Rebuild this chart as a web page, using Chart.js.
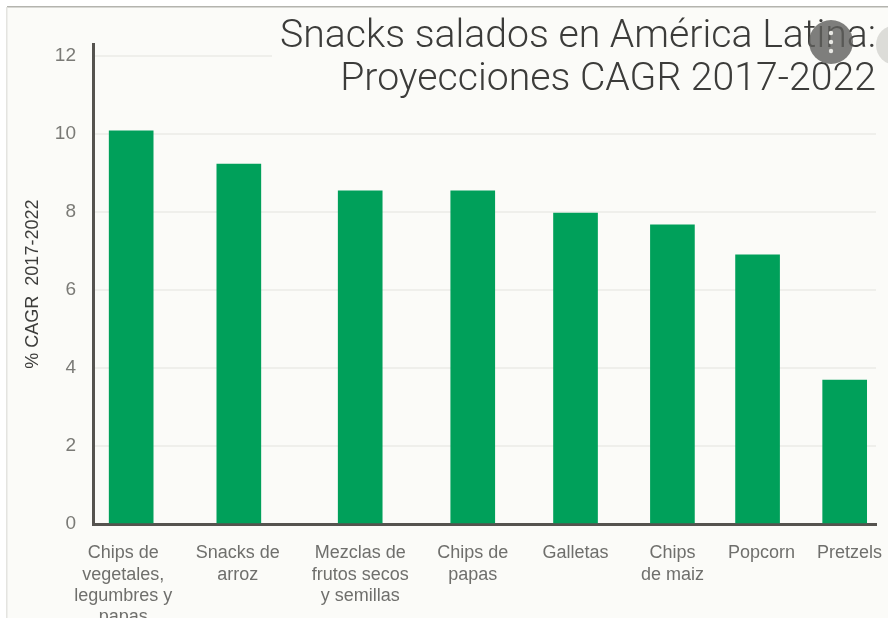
<!DOCTYPE html>
<html>
<head>
<meta charset="utf-8">
<style>
  html, body { margin: 0; background: #fff; overflow: hidden; }
</style>
<script src="https://cdn.jsdelivr.net/npm/chart.js@4"></script>
</head>
<body>
<canvas id="snacksChart" width="888" height="618"></canvas>
<script>
const categories = [
  ["Chips de", "vegetales,", "legumbres y", "papas"],
  ["Snacks de", "arroz"],
  ["Mezclas de", "frutos secos", "y semillas"],
  ["Chips de", "papas"],
  ["Galletas"],
  ["Chips", "de maiz"],
  ["Popcorn"],
  ["Pretzels"]
];
const cagrValues = [10.08, 9.23, 8.54, 8.54, 7.97, 7.67, 6.9, 3.69];
const yTicks = [0, 2, 4, 6, 8, 10, 12];
// the bars are not evenly spaced, so x is a linear scale running 0-8
const barSlots = [0.39, 1.49, 2.73, 3.88, 4.93, 5.92, 6.79, 7.68];
const labelSlots = [0.31, 1.48, 2.73, 3.88, 4.93, 5.92, 6.83, 7.73];
const titleLines = ["Snacks salados en América Latina:", "Proyecciones CAGR 2017-2022"];

const panelPlugin = {
  id: "panel",
  beforeDraw(chart) {
    const { ctx, width, height } = chart;
    ctx.save();
    ctx.fillStyle = "#fbfbf8";
    ctx.fillRect(7, 7, width - 7, height - 7);
    ctx.fillStyle = "#b4b4ae";
    ctx.fillRect(7, 6, width - 7, 1.5);
    ctx.fillStyle = "#e4e4e0";
    ctx.fillRect(6, 7, 1.5, height - 7);
    ctx.restore();
  },
  afterDraw(chart) {
    const { ctx } = chart;
    // title sits on its own plain box over the top gridline
    ctx.save();
    ctx.fillStyle = "#fbfbf8";
    ctx.fillRect(272, 8, 616, 112);
    ctx.restore();
    chart.titleBlock.draw();

    // round menu buttons over the corner
    ctx.save();
    ctx.fillStyle = "#dcdcd8";
    ctx.beginPath();
    ctx.arc(896, 45, 20, 0, Math.PI * 2);
    ctx.fill();
    ctx.fillStyle = "rgba(95, 95, 92, 0.8)";
    ctx.beginPath();
    ctx.arc(831, 42, 22, 0, Math.PI * 2);
    ctx.fill();
    ctx.fillStyle = "#e8e8e4";
    [33, 42, 51].forEach((y) => {
      ctx.beginPath();
      ctx.arc(831, y, 2.2, 0, Math.PI * 2);
      ctx.fill();
    });
    ctx.restore();
  }
};

new Chart(document.getElementById("snacksChart"), {
  type: "bar",
  plugins: [panelPlugin],
  data: {
    datasets: [{
      data: cagrValues.map((v, i) => ({ x: barSlots[i], y: v })),
      backgroundColor: "#00a05a",
      barThickness: 44
    }]
  },
  options: {
    responsive: false,
    animation: false,
    layout: { padding: { left: 16, right: 12, top: 0, bottom: 0 } },
    plugins: {
      legend: { display: false },
      tooltip: { enabled: false },
      title: {
        display: true,
        text: titleLines,
        align: "end",
        color: "#3c3c3a",
        font: { family: "Roboto", weight: "300", size: 39.2, lineHeight: 1.1 },
        padding: { top: 16, bottom: -58 }
      }
    },
    scales: {
      x: {
        type: "linear",
        offset: false,
        min: 0,
        max: 8,
        grid: { display: false },
        border: { color: "#55534f", width: 3 },
        afterFit: (scale) => {
          // labels may hang past the axis ends without shrinking the plot
          scale.height = 94;
          scale.paddingLeft = 0;
          scale.paddingRight = 0;
        },
        afterBuildTicks: (scale) => { scale.ticks = labelSlots.map((value) => ({ value })); },
        ticks: {
          autoSkip: false,
          maxRotation: 0,
          padding: 11,
          color: "#6f6f6c",
          font: { family: "Liberation Sans", size: 18, lineHeight: 1.17 },
          callback: (value, i) => categories[i]
        }
      },
      y: {
        min: 0,
        max: 12.3,
        grid: { color: "#efefeb", lineWidth: 2, drawTicks: false },
        border: { color: "#55534f", width: 3 },
        afterFit: (scale) => { scale.width = 77; },
        afterBuildTicks: (scale) => { scale.ticks = yTicks.map((value) => ({ value })); },
        title: {
          display: true,
          text: "% CAGR  2017-2022",
          color: "#3c3c3a",
          font: { family: "Liberation Sans", size: 18 },
          padding: { top: 6, bottom: 0 }
        },
        ticks: {
          padding: 17,
          color: "#7a7a76",
          font: { family: "Liberation Sans", size: 19 }
        }
      }
    }
  }
});
</script>
</body>
</html>
